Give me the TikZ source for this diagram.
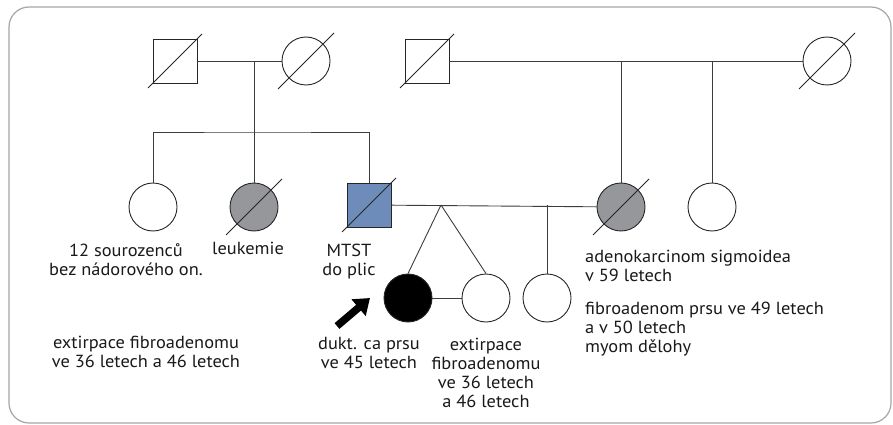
\documentclass[tikz,border=0pt]{standalone}
\usepackage{fontspec}
\setmainfont{PT Sans}[FakeStretch=1.05]
\usetikzlibrary{calc,arrows.meta}

\definecolor{linegray}{RGB}{60,60,60}
\definecolor{framegray}{RGB}{165,165,165}
\definecolor{affgray}{RGB}{150,151,155}
\definecolor{affblue}{RGB}{110,140,185}

\tikzset{
    male/.style={draw=black!85, line width=0.9pt, minimum size=44pt, inner sep=0pt},
    female/.style={circle, draw=black!85, line width=0.9pt, minimum size=48pt, inner sep=0pt},
    link/.style={draw=linegray, line width=0.9pt},
    lbl/.style={font=\fontsize{17.5}{19}\selectfont, text=black!90, inner sep=0pt, align=center, anchor=base},
    lbll/.style={lbl, align=left, anchor=base west}
}
% slash through a deceased person
\newcommand{\died}[2]{\draw[black!85, line width=0.9pt] ($(#1.center)+(-#2,#2)$) -- ($(#1.center)+(#2,-#2)$);}

\begin{document}
\begin{tikzpicture}[x=1pt,y=-1pt]
            \useasboundingbox (0,0) rectangle (893,425);
            \draw[framegray, line width=1.2pt, rounded corners=20pt] (9,7) rectangle (891,423);

            % grandparents
            \node[male] (gf1) at (175,61) {};
            \node[female] (gm1) at (306,61) {};
            \node[male] (gf2) at (427,61) {};
            \node[female] (gm2) at (827,61) {};
            \died{gf1}{27} \died{gm1}{28}
            \died{gf2}{27} \died{gm2}{28}

            % parents and their siblings
            \node[female] (sib1) at (153,207) {};
            \node[female, fill=affgray] (sib2) at (254,207) {};
            \node[male, fill=affblue] (father) at (369,205) {};
            \node[female, fill=affgray] (mother) at (621,207) {};
            \node[female] (aunt) at (712,207) {};
            \died{sib2}{28} \died{father}{27} \died{mother}{28}

            % probandka, dvojce a sestra
            \node[female, fill=black] (prob) at (408,298) {};
            \node[female] (twin) at (486,298) {};
            \node[female] (sister) at (547,298) {};

            \coordinate (m1) at (254,61);
            \coordinate (s1) at (254,132);
            \coordinate (m2) at (441,205);
            \coordinate (d2) at (621,61);
            \coordinate (d3) at (712,61);

            \draw[link] (gf1) -- (gm1);
            \draw[link] (m1) -- (s1);
            \draw[link] (sib1.north) |- (s1) -| (father.north);
            \draw[link] (s1) -- (sib2.north);
            \draw[link] (gf2) -- (gm2);
            \draw[link] (d2) -- (mother.north);
            \draw[link] (d3) -- (aunt.north);
            \draw[link] (father) -- (mother);
            \draw[link] (m2) -- (prob.north);
            \draw[link] (m2) -- (twin.north);
            \draw[link] (sister.north |- m2) -- (sister.north);
            \draw[link] (prob) -- (twin);

            % sipka k probandce
            \coordinate (tail) at (337,326);
            \coordinate (tip) at (370,298);
            \draw[line width=7.5pt, -{Triangle[length=15pt,width=21pt]}] (tail) -- (tip);

            % popisky (pozice = uctari posledniho radku)
            \node[lbl] (t1) at (126,275) {12 sourozenců\\bez nádorového on.};
            \node[lbl] (t2) at (248,254) {leukemie};
            \node[lbl] (t3) at (349,275) {MTST\\do plic};
            \node[lbl] (t4) at (146,367) {extirpace fibroadenomu\\ve 36 letech a 46 letech};
            \node[lbl] (t5) at (369,368) {dukt. ca prsu\\ve 45 letech};
            \node[lbl] (t6) at (486,407) {extirpace\\fibroadenomu\\ve 36 letech\\a 46 letech};
            \node[lbll] (t7) at (585,281) {adenokarcinom sigmoidea\\v 59 letech};
            \node[lbll] (t8) at (585,352) {fibroadenom prsu ve 49 letech\\a v 50 letech\\myom dělohy};
\end{tikzpicture}
\end{document}
